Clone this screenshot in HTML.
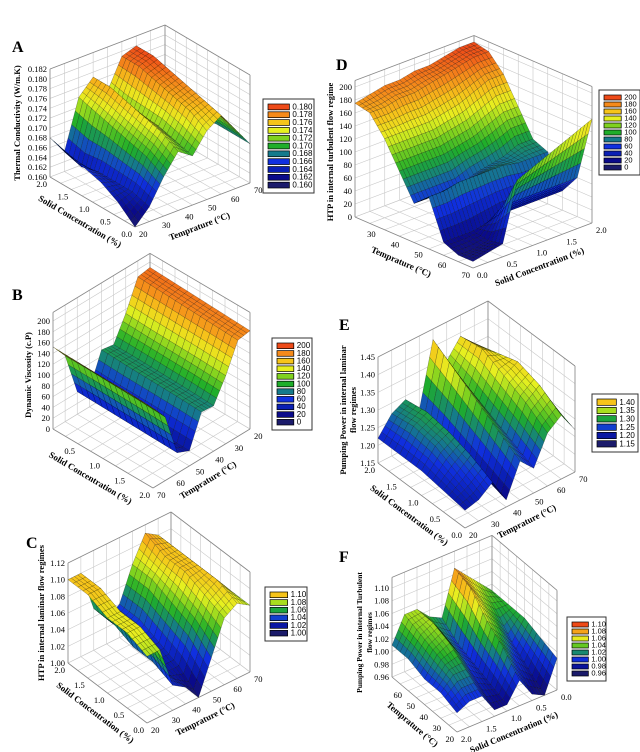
<!DOCTYPE html>
<html><head><meta charset="utf-8"><style>
body{margin:0;background:#fff;}
svg{display:block;font-family:"Liberation Serif",serif;}
</style></head><body>
<svg id="fig" width="640" height="752" viewBox="0 0 640 752" xmlns="http://www.w3.org/2000/svg"></svg>
<script>
// ===== data (rows = left-axis index, cols = right-axis index) =====
const gridA=[
[0.160,0.163,0.168,0.172,0.170,0.174,0.176,0.172,0.168],
[0.163,0.164,0.170,0.174,0.171,0.176,0.177,0.173,0.168],
[0.165,0.164,0.171,0.175,0.172,0.177,0.178,0.173,0.168],
[0.166,0.164,0.172,0.176,0.172,0.178,0.179,0.172,0.167],
[0.167,0.163,0.173,0.177,0.172,0.179,0.180,0.172,0.167],
[0.168,0.164,0.174,0.177,0.173,0.179,0.180,0.171,0.168]];
const gridB=[
[148,118,38,28,86,84,126,178,182],
[150,120,39,29,88,86,128,180,184],
[150,121,40,30,89,87,129,182,186],
[151,122,41,30,90,88,130,184,188],
[152,122,42,32,92,88,132,186,190]];
const gridC=[
[1.08,1.08,1.03,1.02,1.00,1.04,1.08,1.09,1.08],
[1.09,1.09,1.04,1.02,1.02,1.06,1.09,1.10,1.08],
[1.09,1.09,1.04,1.03,1.03,1.07,1.10,1.10,1.08],
[1.10,1.10,1.05,1.03,1.04,1.08,1.10,1.10,1.08],
[1.10,1.10,1.05,1.03,1.04,1.08,1.11,1.10,1.08]];
const gridD=[
[10,15,20,110,120,130,140,150,160],
[10,10,15,60,60,60,60,60,60],
[20,20,20,25,30,30,30,30,30],
[80,80,85,85,85,85,80,80,80],
[60,60,60,60,70,75,80,90,90],
[100,100,100,100,105,110,120,130,130],
[140,140,140,140,145,150,160,170,170],
[170,170,175,175,180,185,190,195,195],
[175,180,185,185,190,190,195,200,200]];
const gridE=[
[1.20,1.21,1.24,1.17,1.26,1.22,1.30,1.33,1.27],
[1.21,1.24,1.27,1.19,1.30,1.25,1.34,1.37,1.29],
[1.22,1.27,1.29,1.21,1.34,1.28,1.37,1.39,1.30],
[1.22,1.28,1.30,1.23,1.38,1.31,1.40,1.37,1.30],
[1.22,1.27,1.29,1.24,1.42,1.34,1.39,1.35,1.29]];
const gridF=[
[0.99,1.00,1.00,0.97,0.97,1.00,0.97,0.96,1.01],
[1.00,1.02,1.02,0.99,0.98,1.03,1.00,0.98,1.02],
[1.00,1.03,1.04,1.01,0.99,1.05,1.03,1.00,1.03],
[1.01,1.04,1.05,1.02,1.00,1.08,1.05,1.03,1.03],
[1.01,1.05,1.05,1.03,1.02,1.09,1.07,1.05,1.03]];
const legendA=["0.180","0.178","0.176","0.174","0.172","0.170","0.168","0.166","0.164","0.162","0.160"];
const legendB=["200","180","160","140","120","100","80","60","40","20","0"];
const legendC=["1.10","1.08","1.06","1.04","1.02","1.00"];
const legendE=["1.40","1.35","1.30","1.25","1.20","1.15"];
const legendF=["1.10","1.08","1.06","1.04","1.02","1.00","0.98","0.96"];
const zTicksA=[0.160,0.162,0.164,0.166,0.168,0.170,0.172,0.174,0.176,0.178,0.180,0.182];
const zTicks200=[0,20,40,60,80,100,120,140,160,180,200];
const zTicksC=[1.00,1.02,1.04,1.06,1.08,1.10,1.12];
const zTicksE=[1.15,1.20,1.25,1.30,1.35,1.40,1.45];
const zTicksF=[0.96,0.98,1.00,1.02,1.04,1.06,1.08,1.10];
const tempTicks=[20,30,40,50,60,70];
const solidTicks=[0.0,0.5,1.0,1.5,2.0];

const NS="http://www.w3.org/2000/svg";
const svg=document.getElementById('fig');
function el(tag,attrs,parent){const e=document.createElementNS(NS,tag);for(const k in attrs)e.setAttribute(k,attrs[k]);(parent||svg).appendChild(e);return e;}
const stops=[[0,[27,27,107]],[0.1,[10,10,138]],[0.2,[10,31,180]],[0.3,[16,48,224]],[0.4,[21,122,140]],[0.5,[31,174,42]],[0.6,[127,210,31]],[0.7,[230,240,32]],[0.8,[246,196,26]],[0.9,[245,138,26]],[1,[238,74,24]]];
function cmap(t){t=Math.max(0,Math.min(1,t));for(let i=1;i<stops.length;i++){if(t<=stops[i][0]){const a=stops[i-1],b=stops[i];const f=(t-a[0])/(b[0]-a[0]);const c=a[1].map((x,k)=>Math.round(x+(b[1][k]-x)*f));return `rgb(${c[0]},${c[1]},${c[2]})`;}}return 'rgb(238,74,24)';}

function panel(p){
  const g=el('g',{});
  
  
  const P0=p.P0,L=p.L,R=p.R,H=p.H;
  const zf=z=>(z-p.zmin)/(p.zmax-p.zmin);
  const pt=(u,v,f)=>[P0[0]+u*(R[0]-P0[0])+v*(L[0]-P0[0]),P0[1]+u*(R[1]-P0[1])+v*(L[1]-P0[1])-f*H];
  const ztop=p.ztop||1;
  const walls=el('g',{stroke:'#c8c8c8','stroke-width':0.6,fill:'none'},g);
  
  
  for(let k=0;k<=8;k++){const s=k/8;
    let a=pt(s,1,0),b=pt(s,1,ztop);el('line',{x1:a[0],y1:a[1],x2:b[0],y2:b[1]},walls);
    a=pt(1,s,0);b=pt(1,s,ztop);el('line',{x1:a[0],y1:a[1],x2:b[0],y2:b[1]},walls);
    a=pt(s,0,0);b=pt(s,1,0);el('line',{x1:a[0],y1:a[1],x2:b[0],y2:b[1]},walls);
    a=pt(0,s,0);b=pt(1,s,0);el('line',{x1:a[0],y1:a[1],x2:b[0],y2:b[1]},walls);
  }
  p.zt.forEach(z=>{const f=zf(z);let a=pt(0,1,f),b=pt(1,1,f),c=pt(1,0,f);
    el('polyline',{points:`${a} ${b} ${c}`},walls);});
  const ol=el('g',{stroke:'#888','stroke-width':0.8,fill:'none'},g);
  
  
  [[pt(0,1,0),pt(0,1,ztop)],[pt(1,1,0),pt(1,1,ztop)],[pt(1,0,0),pt(1,0,ztop)],[pt(0,1,ztop),pt(1,1,ztop)],[pt(1,1,ztop),pt(1,0,ztop)],[pt(0,0,0),pt(1,0,0)],[pt(0,0,0),pt(0,1,0)]].forEach(s=>el('line',{x1:s[0][0],y1:s[0][1],x2:s[1][0],y2:s[1][1]},ol));
  const grid=p.grid,nr=grid.length,nc=grid[0].length,S=4;
  const val=(u,v)=>{const x=u*(nc-1),y=v*(nr-1);const i=Math.min(nc-2,Math.floor(x)),j=Math.min(nr-2,Math.floor(y));const fx=x-i,fy=y-j;
    return grid[j][i]*(1-fx)*(1-fy)+grid[j][i+1]*fx*(1-fy)+grid[j+1][i]*(1-fx)*fy+grid[j+1][i+1]*fx*fy;};
  const NU=(nc-1)*S,NV=(nr-1)*S;
  const surf=el('g',{stroke:'rgba(0,0,0,0.55)','stroke-width':0.35},g);
  
  
  const cells=[];
  for(let i=0;i<NU;i++)for(let j=0;j<NV;j++)cells.push([i,j]);
  cells.sort((a,b)=>(b[0]/NU+b[1]/NV)-(a[0]/NU+a[1]/NV));
  cells.forEach(([i,j])=>{
    const cs=[[i,j],[i+1,j],[i+1,j+1],[i,j+1]].map(([a,b])=>{const u=a/NU,v=b/NV;const z=val(u,v);return {p:pt(u,v,zf(z)),z};});
    const zm=cs.reduce((s,c)=>s+c.z,0)/4;
    const t=(zm-p.cmin)/(p.cmax-p.cmin);
    el('polygon',{points:cs.map(c=>c.p.join(',')).join(' '),fill:cmap(t)},surf);
  });
  const lab=el('text',{x:p.lab[0],y:p.lab[1],'font-size':16,'font-weight':'bold'},g);lab.textContent=p.id;
  
  
  const zl=el('g',{'font-size':8.5,'text-anchor':'end'},g);
  
  
  p.zt.forEach(z=>{const a=pt(0,1,zf(z));const t=el('text',{x:a[0]-3,y:a[1]+3},zl);t.textContent=p.zfmt(z);});
  const ul=el('g',{'font-size':8.5},g);
  
  
  p.ut.forEach(v=>{const u=(v-p.u0)/(p.u1-p.u0);const a=pt(u,0,0);const t=el('text',{x:a[0]+4,y:a[1]+10},ul);t.textContent=p.ufmt(v);});
  const vl=el('g',{'font-size':8.5,'text-anchor':'end'},g);
  
  
  p.vt.forEach(v=>{const w=(v-p.v0)/(p.v1-p.v0);const a=pt(0,w,0);const t=el('text',{x:a[0]-3,y:a[1]+10},vl);t.textContent=p.vfmt(v);});
  const za=pt(0,1,0.5);
  const zt=el('text',{transform:`translate(${za[0]-p.zoff},${za[1]}) rotate(-90)`,'font-size':p.zfs||8.5,'font-weight':'bold','text-anchor':'middle'},g);
  
  
  p.ztitle.forEach((s,k)=>{const ts=el('tspan',{x:0,dy:k?10:0},zt);ts.textContent=s;});
  const ru=pt(0.5,0,0),ang1=Math.atan2(R[1]-P0[1],R[0]-P0[0])*180/Math.PI;
  const ut=el('text',{transform:`translate(${ru[0]+8},${ru[1]+24}) rotate(${ang1})`,'font-size':9,'font-weight':'bold','text-anchor':'middle'},g);
  ut.textContent=p.utitle;
  
  
  const lv=pt(0,0.5,0),ang2=Math.atan2(P0[1]-L[1],P0[0]-L[0])*180/Math.PI;
  const vt=el('text',{transform:`translate(${lv[0]-14},${lv[1]+22}) rotate(${ang2})`,'font-size':9,'font-weight':'bold','text-anchor':'middle'},g);
  vt.textContent=p.vtitle;
  
  
  const lg=el('g',{},g);
  
  
  const [lx,ly,lw,lh]=p.leg;const n=p.legend.length;
  el('rect',{x:lx,y:ly,width:lw,height:lh,fill:'#fff',stroke:'#333','stroke-width':1},lg);
  const step=(lh-8)/n;
  p.legend.forEach((s,k)=>{
    const t=(parseFloat(s)-p.cmin)/(p.cmax-p.cmin);
    const yy=ly+4+k*step;
    const r=el('rect',{x:lx+5,y:yy+1,width:lw*0.42,height:step-2,fill:cmap(t),stroke:'#000','stroke-width':0.7},lg);
    
    
    const tx=el('text',{x:lx+8+lw*0.42,y:yy+step-1.5,'font-size':Math.min(8,step+0.5),'font-family':'Liberation Sans, sans-serif'},lg);
    tx.textContent=s;
  });
}
const f3=z=>z.toFixed(3),f2=z=>z.toFixed(2),f1=z=>z.toFixed(1),f0=z=>String(z);
const T="Temprature (\u00B0C)",SC="Solid Concentration (%)";
panel({id:'A',lab:[12,52],P0:[135,227],L:[50,177],R:[250,183],H:108,zmin:0.160,zmax:0.182,cmin:0.160,cmax:0.180,grid:gridA,
  zt:zTicksA,zfmt:f3,ut:tempTicks,u0:20,u1:70,ufmt:f0,vt:solidTicks,v0:0,v1:2,vfmt:f1,ztitle:["Thermal Conductivity (W/m.K)"],zoff:30,
  utitle:T,vtitle:SC,legend:legendA,leg:[263,99,51,94]});
panel({id:'B',lab:[12,300],P0:[153,488],L:[53,429],R:[250,429],H:108,zmin:0,zmax:200,cmin:0,cmax:200,grid:gridB,ztop:1.08,
  zt:zTicks200,zfmt:f0,ut:tempTicks,u0:70,u1:20,ufmt:f0,vt:[0.5,1.0,1.5,2.0],v0:2,v1:0,vfmt:f1,ztitle:["Dynamic Viscosity (c.P)"],zoff:22,
  utitle:T,vtitle:SC,legend:legendB,leg:[272,338,40,92]});
panel({id:'C',lab:[26,548],P0:[147,723],L:[68,663],R:[250,672],H:100,zmin:1.00,zmax:1.12,cmin:1.00,cmax:1.125,grid:gridC,
  zt:zTicksC,zfmt:f2,ut:tempTicks,u0:20,u1:70,ufmt:f0,vt:solidTicks,v0:0,v1:2,vfmt:f1,ztitle:["HTP in  internal laminar flow regimes"],zoff:24,
  utitle:T,vtitle:SC,legend:legendC,leg:[265,587,42,54]});
panel({id:'D',lab:[336,70],P0:[473,268],L:[355,217],R:[592,223],H:130,zmin:0,zmax:200,cmin:0,cmax:200,grid:gridD,ztop:1.05,
  zt:zTicks200,zfmt:f0,ut:solidTicks,u0:0,u1:2,ufmt:f1,vt:[70,60,50,40,30],v0:70,v1:20,vfmt:f0,ztitle:["HTP in internal turbulent flow regime"],zoff:22,
  utitle:SC,vtitle:T,legend:legendB,leg:[599,90,41,85]});
panel({id:'E',lab:[339,330],P0:[465,528],L:[378,463],R:[575,472],H:106,zmin:1.15,zmax:1.45,cmin:1.15,cmax:1.4625,grid:gridE,
  zt:zTicksE,zfmt:f2,ut:tempTicks,u0:20,u1:70,ufmt:f0,vt:solidTicks,v0:0,v1:2,vfmt:f1,ztitle:["Pumping Power in  internal laminar","flow regimes"],zoff:32,
  utitle:T,vtitle:SC,legend:legendE,leg:[592,394,46,58]});
panel({id:'F',lab:[339,562],P0:[457,732],L:[392,677],R:[557,690],H:89,zmin:0.96,zmax:1.10,cmin:0.96,cmax:1.10,grid:gridF,ztop:1.12,
  zt:zTicksF,zfmt:f2,ut:[0.0,0.5,1.0,1.5,2.0],u0:2,u1:0,ufmt:f1,vt:[20,30,40,50,60],v0:20,v1:70,vfmt:f0,ztitle:["Pumping Power in  internal Turbulent","flow regimes"],zoff:30,zfs:7.5,
  utitle:SC,vtitle:T,legend:legendF,leg:[567,617,39,64]});
</script>
</body></html>
